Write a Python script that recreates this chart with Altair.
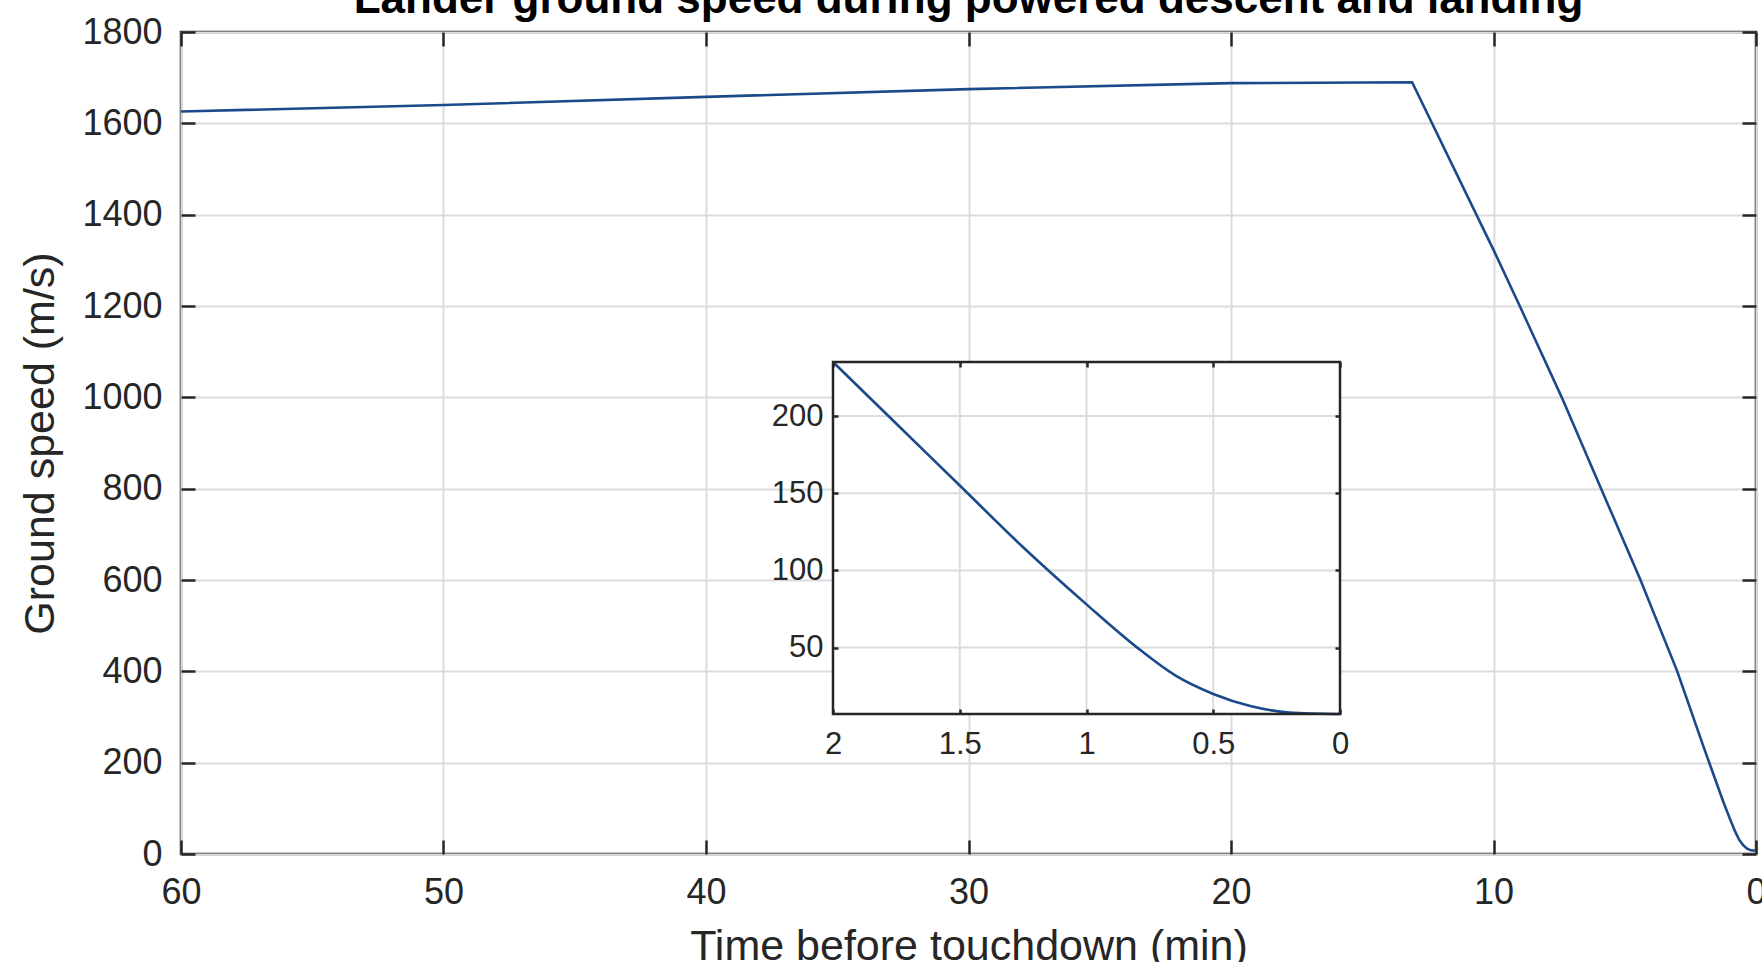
import altair as alt
import pandas as pd

# ---------------- data ----------------
TIME_MIN = [60, 50, 40, 30, 20, 13.1, 10.0, 9.0, 7.4, 5.9, 4.4, 3.0,
            2.0, 1.75, 1.5, 1.25, 1.0, 0.8, 0.65, 0.5, 0.35, 0.2, 0.0]
SPEED = [1626, 1640, 1658, 1675, 1688, 1690, 1323, 1200, 1000, 800, 600, 400,
         235, 195, 155, 115, 78, 50, 32, 20, 12, 8, 7]

MAIN_X_TICKS = [60, 50, 40, 30, 20, 10, 0]
MAIN_Y_TICKS = [0, 200, 400, 600, 800, 1000, 1200, 1400, 1600, 1800]
INSET_X_TICKS = [2, 1.5, 1, 0.5, 0]
INSET_Y_TICKS = [50, 100, 150, 200]
INSET_T_MAX = 2

TITLE = "Lander ground speed during powered descent and landing"
X_TITLE = "Time before touchdown (min)"
Y_TITLE = "Ground speed (m/s)"

# ---------------- style / layout ----------------
FONT = "Liberation Sans"
LINE = "#1a4a8a"
GRID = "#dcdcdc"
DARK = "#262626"

W, H = 1575, 822
PAD = {"left": 181, "top": 32, "right": 6, "bottom": 108}
IX0, IX1 = 652, 1159   # inset left / right (px inside plot area)
IY0, IY1 = 330, 682    # inset top / bottom
ITICK = 5
MTICK = 14
TITLE_BASELINE = -19   # title baseline, px above the plot area

df = pd.DataFrame({"t": TIME_MIN, "v": SPEED})
inset_df = df[df["t"] <= INSET_T_MAX].reset_index(drop=True)
ymin = float(inset_df["v"].min())
ymax = float(inset_df["v"].max())

main_x = alt.Scale(domain=[0, 60], reverse=True, nice=False, zero=False)
main_y = alt.Scale(domain=[0, 1800], nice=False, zero=False)
inset_x = alt.Scale(domain=[0, INSET_T_MAX], range=[IX1, IX0], nice=False, zero=False)
inset_y = alt.Scale(domain=[ymin, ymax], range=[IY1, IY0], nice=False, zero=False)

lab = dict(labelFont=FONT, labelColor=DARK, labelFlush=False, labelOverlap=False)
tick_only = dict(ticks=True, tickColor=DARK, tickWidth=2.5, labels=False,
                 domain=False, grid=False, title=None)

# ---- main line with labelled axes and grid ----
main_line = alt.Chart(df).mark_line(color=LINE, strokeWidth=2.6).encode(
    x=alt.X("t:Q", scale=main_x, axis=alt.Axis(
        orient="bottom", values=MAIN_X_TICKS, format="d", grid=True,
        gridColor=GRID, gridWidth=2, ticks=False, domain=False,
        labelFontSize=36, labelPadding=21, **lab,
        title=X_TITLE, titleFont=FONT, titleFontSize=43, titleFontWeight="normal",
        titleColor=DARK, titleX=W / 2, titleY=105, titleBaseline="alphabetic",
        titleAlign="center")),
    y=alt.Y("v:Q", scale=main_y, axis=alt.Axis(
        orient="left", values=MAIN_Y_TICKS, format="d", grid=True,
        gridColor=GRID, gridWidth=2, ticks=False, domain=False,
        labelFontSize=36, labelPadding=19, **lab,
        title=Y_TITLE, titleFont=FONT, titleFontSize=43, titleFontWeight="normal",
        titleColor=DARK, titleX=-128, titleY=H / 2, titleAngle=270,
        titleBaseline="alphabetic", titleAlign="center")),
)

# ---- inward tick marks of the main box ----
main_ticks_a = alt.Chart(df).mark_line(strokeOpacity=0).encode(
    x=alt.X("t:Q", scale=main_x, axis=alt.Axis(orient="bottom", offset=-MTICK,
            tickSize=MTICK, values=MAIN_X_TICKS, **tick_only)),
    y=alt.Y("v:Q", scale=main_y, axis=alt.Axis(orient="left", offset=-MTICK,
            tickSize=MTICK, values=MAIN_Y_TICKS, **tick_only)),
)
main_ticks_b = alt.Chart(df).mark_line(strokeOpacity=0).encode(
    x=alt.X("t:Q", scale=main_x, axis=alt.Axis(orient="top", offset=-MTICK,
            tickSize=MTICK, values=MAIN_X_TICKS, **tick_only)),
    y=alt.Y("v:Q", scale=main_y, axis=alt.Axis(orient="right", offset=-MTICK,
            tickSize=MTICK, values=MAIN_Y_TICKS, **tick_only)),
)

# ---- chart title (partly cut by the top edge, as in the reference) ----
title_text = alt.Chart(pd.DataFrame({"title": [TITLE]})).mark_text(
    font=FONT, fontSize=44, fontWeight="bold", color="#000000",
    align="center", baseline="alphabetic",
).encode(
    text="title:N",
    x=alt.value(W / 2),
    y=alt.value(TITLE_BASELINE),
)

# ---- inset ----
box_df = pd.DataFrame({"t0": [0.0], "t1": [float(INSET_T_MAX)], "v0": [ymin], "v1": [ymax]})

inset_bg = alt.Chart(box_df).mark_rect(fill="white").encode(
    x=alt.X("t0:Q", scale=inset_x, axis=alt.Axis(
        orient="bottom", offset=IY1 - H, values=INSET_X_TICKS, format="~g",
        ticks=False, domain=False, grid=False, labelFontSize=31, labelPadding=15,
        title=None, **lab)),
    x2="t1:Q",
    y=alt.Y("v0:Q", scale=inset_y, axis=alt.Axis(
        orient="left", offset=-IX0, values=INSET_Y_TICKS, format="d",
        ticks=False, domain=False, grid=False, labelFontSize=31, labelPadding=10,
        title=None, **lab)),
    y2="v1:Q",
)

gx_df = pd.DataFrame({"t": INSET_X_TICKS, "lo": ymin, "hi": ymax})
gy_df = pd.DataFrame({"v": INSET_Y_TICKS, "lo": 0.0, "hi": float(INSET_T_MAX)})

inset_grid_x = alt.Chart(gx_df).mark_rule(color=GRID, strokeWidth=2).encode(
    x=alt.X("t:Q", scale=inset_x, axis=None),
    y=alt.Y("lo:Q", scale=inset_y, axis=None),
    y2="hi:Q",
)
inset_grid_y = alt.Chart(gy_df).mark_rule(color=GRID, strokeWidth=2).encode(
    y=alt.Y("v:Q", scale=inset_y, axis=None),
    x=alt.X("lo:Q", scale=inset_x, axis=None),
    x2="hi:Q",
)

inset_line = alt.Chart(inset_df).mark_line(
    color=LINE, strokeWidth=2.6, interpolate="monotone"
).encode(
    x=alt.X("t:Q", scale=inset_x, axis=alt.Axis(
        orient="bottom", offset=IY1 - ITICK - H, tickSize=ITICK,
        values=INSET_X_TICKS, zindex=1, **tick_only)),
    y=alt.Y("v:Q", scale=inset_y, axis=alt.Axis(
        orient="left", offset=-(IX0 + ITICK), tickSize=ITICK,
        values=INSET_Y_TICKS, zindex=1, **tick_only)),
)

inset_border = alt.Chart(box_df).mark_rect(fillOpacity=0, stroke=DARK, strokeWidth=2.5).encode(
    x=alt.X("t0:Q", scale=inset_x, axis=alt.Axis(
        orient="top", offset=-(IY0 + ITICK), tickSize=ITICK,
        values=INSET_X_TICKS, zindex=1, **tick_only)),
    x2="t1:Q",
    y=alt.Y("v0:Q", scale=inset_y, axis=alt.Axis(
        orient="right", offset=(IX1 - ITICK) - W, tickSize=ITICK,
        values=INSET_Y_TICKS, zindex=1, **tick_only)),
    y2="v1:Q",
)

chart = alt.layer(
    main_line, main_ticks_a, main_ticks_b, title_text,
    inset_bg, inset_grid_x, inset_grid_y, inset_line, inset_border,
).resolve_scale(
    x="independent", y="independent"
).resolve_axis(
    x="independent", y="independent"
).properties(
    width=W, height=H,
    autosize=alt.AutoSizeParams(type="none"),
    padding=PAD,
).configure(
    font=FONT, background="white"
).configure_view(
    stroke=DARK, strokeWidth=2.5
)

chart.save("out.html", embed_options={"renderer": "svg", "actions": False})
